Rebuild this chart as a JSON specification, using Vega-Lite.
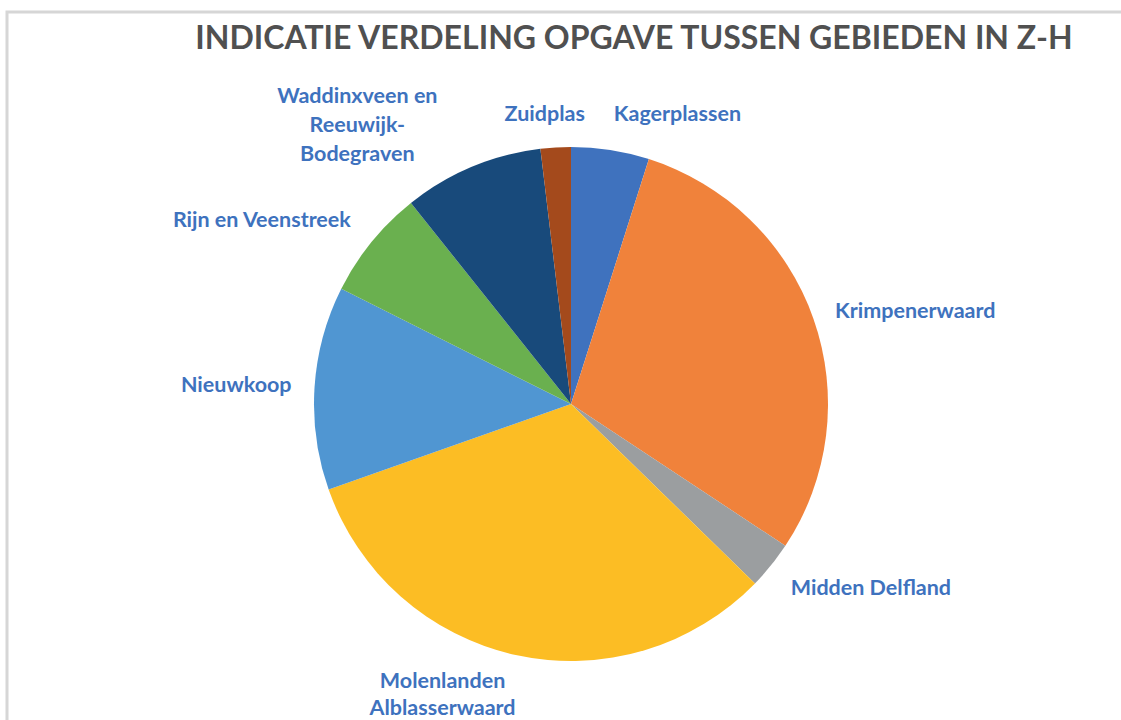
{
  "$schema": "https://vega.github.io/schema/vega-lite/v6.json",
  "width": 1128,
  "height": 784,
  "autosize": "none",
  "padding": {"left": 7, "top": 12, "right": 0, "bottom": 0},
  "background": "white",
  "view": {"stroke": "#d6d6d6", "strokeWidth": 3, "fill": "white"},
  "config": {"font": "Lato"},
  "title": {
    "text": "INDICATIE VERDELING OPGAVE TUSSEN GEBIEDEN IN Z-H",
    "font": "Lato",
    "fontSize": 32,
    "fontWeight": "bold",
    "color": "#505050",
    "anchor": "middle",
    "dx": 63,
    "offset": -44
  },
  "data": {
    "values": [
      {"region": "Kagerplassen", "share": 4.9},
      {"region": "Krimpenerwaard", "share": 29.4},
      {"region": "Midden Delfland", "share": 3.0},
      {"region": "Molenlanden\nAlblasserwaard", "share": 32.3},
      {"region": "Nieuwkoop", "share": 12.8},
      {"region": "Rijn en Veenstreek", "share": 6.9},
      {"region": "Waddinxveen en\nReeuwijk-\nBodegraven", "share": 8.8},
      {"region": "Zuidplas", "share": 1.9}
    ]
  },
  "encoding": {
    "theta": {"field": "share", "type": "quantitative", "stack": true},
    "order": {"field": "region", "type": "nominal"},
    "detail": {"field": "region", "type": "nominal"}
  },
  "layer": [
    {
      "mark": {"type": "arc", "outerRadius": 257},
      "encoding": {
        "color": {
          "field": "region",
          "type": "nominal",
          "legend": null,
          "scale": {
            "domain": ["Kagerplassen", "Krimpenerwaard", "Midden Delfland", "Molenlanden\nAlblasserwaard", "Nieuwkoop", "Rijn en Veenstreek", "Waddinxveen en\nReeuwijk-\nBodegraven", "Zuidplas"],
            "range": ["#3F72BE", "#F0823B", "#9B9EA0", "#FCBD24", "#5096D2", "#6AB04F", "#184A7B", "#A44A1C"]
          }
        }
      }
    },
    {
      "mark": {"type": "text", "radius": 292, "align": "left", "baseline": "middle", "dx": -2, "fontSize": 21.5, "fontWeight": "bold", "fill": "#3E72BE", "font": "Lato"},
      "encoding": {"text": {"condition": {"test": "datum.region === 'Kagerplassen'", "field": "region"}, "value": ""}}
    },
    {
      "mark": {"type": "text", "radius": 280, "align": "left", "baseline": "middle", "dy": 1, "fontSize": 21.5, "fontWeight": "bold", "fill": "#3E72BE", "font": "Lato"},
      "encoding": {"text": {"condition": {"test": "datum.region === 'Krimpenerwaard'", "field": "region"}, "value": ""}}
    },
    {
      "mark": {"type": "text", "radius": 290, "align": "left", "baseline": "middle", "dx": -6, "dy": 3, "fontSize": 21.5, "fontWeight": "bold", "fill": "#3E72BE", "font": "Lato"},
      "encoding": {"text": {"condition": {"test": "datum.region === 'Midden Delfland'", "field": "region"}, "value": ""}}
    },
    {
      "mark": {"type": "text", "radius": 295, "align": "center", "baseline": "middle", "dx": -65, "dy": -10, "lineBreak": "\n", "lineHeight": 27, "fontSize": 21.5, "fontWeight": "bold", "fill": "#3E72BE", "font": "Lato"},
      "encoding": {"text": {"condition": {"test": "indexof(datum.region, 'Molenlanden') === 0", "field": "region"}, "value": ""}}
    },
    {
      "mark": {"type": "text", "radius": 280, "align": "right", "baseline": "middle", "fontSize": 21.5, "fontWeight": "bold", "fill": "#3E72BE", "font": "Lato"},
      "encoding": {"text": {"condition": {"test": "datum.region === 'Nieuwkoop'", "field": "region"}, "value": ""}}
    },
    {
      "mark": {"type": "text", "radius": 290, "align": "right", "baseline": "middle", "dx": 5, "fontSize": 21.5, "fontWeight": "bold", "fill": "#3E72BE", "font": "Lato"},
      "encoding": {"text": {"condition": {"test": "datum.region === 'Rijn en Veenstreek'", "field": "region"}, "value": ""}}
    },
    {
      "mark": {"type": "text", "radius": 300, "align": "center", "baseline": "middle", "dx": -98, "dy": -30, "lineBreak": "\n", "lineHeight": 29, "fontSize": 21.5, "fontWeight": "bold", "fill": "#3E72BE", "font": "Lato"},
      "encoding": {"text": {"condition": {"test": "indexof(datum.region, 'Waddinxveen') === 0", "field": "region"}, "value": ""}}
    },
    {
      "mark": {"type": "text", "radius": 290, "align": "center", "baseline": "middle", "dx": -9, "fontSize": 21.5, "fontWeight": "bold", "fill": "#3E72BE", "font": "Lato"},
      "encoding": {"text": {"condition": {"test": "datum.region === 'Zuidplas'", "field": "region"}, "value": ""}}
    }
  ]
}
